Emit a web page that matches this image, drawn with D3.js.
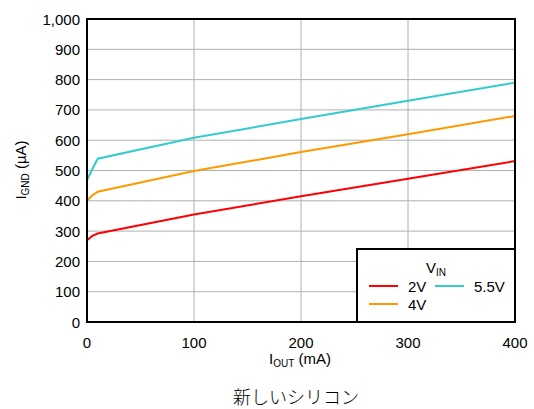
<!DOCTYPE html>
<html><head><meta charset="utf-8">
<script src="https://cdn.jsdelivr.net/npm/d3@7"></script>
<style>body{margin:0;background:#fff}svg{display:block}text{font-family:"Liberation Sans",Arial,sans-serif;fill:#000}</style>
</head><body><svg id="c" width="534" height="409"></svg>
<script>
const xTicks = [0,100,200,300,400];
const yTicks = [0,100,200,300,400,500,600,700,800,900,1000];
const iout = [0,5,10,100,200,300,400];
const v2 = [270,284,292,355,415,473,531];
const v4 = [400,418,430,498,561,620,680];
const v55 = [468,505,539,608,670,730,790];
const seriesNames = ["2V","4V","5.5V"];
const colors = ["#ff0000","#ff9900","#33cccc"];

const svg = d3.select("#c");
const L=87,R=515,T=19,B=322;
const x = d3.scaleLinear().domain([0,400]).range([L,R]);
const y = d3.scaleLinear().domain([0,1000]).range([B,T]);
const fmt = d3.format(",");
const FS=15;

// grid
svg.append("g").selectAll("line").data(yTicks.slice(1,-1)).join("line")
 .attr("x1",L).attr("x2",R).attr("y1",d=>y(d)).attr("y2",d=>y(d)).attr("stroke","#b0b0b0").attr("stroke-width",1);
svg.append("g").selectAll("line").data(xTicks.slice(1,-1)).join("line")
 .attr("y1",T).attr("y2",B).attr("x1",d=>x(d)).attr("x2",d=>x(d)).attr("stroke","#b0b0b0").attr("stroke-width",1);

// tick labels
svg.append("g").selectAll("text").data(yTicks).join("text")
 .attr("x",L-7).attr("y",d=>y(d)+5.5).attr("text-anchor","end").attr("font-size",FS).text(d=>fmt(d));
svg.append("g").selectAll("text").data(xTicks).join("text")
 .attr("x",d=>x(d)).attr("y",B+26).attr("text-anchor","middle").attr("font-size",FS).text(d=>d);

// lines
const data=[v2,v4,v55];
const line=d3.line().x((d,i)=>x(iout[i])).y(d=>y(d));
svg.append("g").selectAll("path").data(data).join("path")
 .attr("d",line).attr("fill","none").attr("stroke",(d,i)=>colors[i]).attr("stroke-width",2);

// frame
svg.append("rect").attr("x",L).attr("y",T).attr("width",R-L).attr("height",B-T)
 .attr("fill","none").attr("stroke","#000").attr("stroke-width",2);

// legend
const lg=svg.append("g");
lg.append("rect").attr("x",357).attr("y",249).attr("width",R-357).attr("height",B-249)
 .attr("fill","#fff").attr("stroke","#000").attr("stroke-width",2);
const vt=lg.append("text").attr("x",426).attr("y",273).attr("font-size",FS);
vt.append("tspan").text("V");
vt.append("tspan").attr("font-size",10).attr("dy",3).text("IN");
const pos=[[369,286],[369,304],[435,286]];
seriesNames.forEach((n,i)=>{
  const [px,py]=pos[i];
  lg.append("line").attr("x1",px).attr("x2",px+29).attr("y1",py).attr("y2",py).attr("stroke",colors[i]).attr("stroke-width",2);
  lg.append("text").attr("x",px+39).attr("y",py+5.5).attr("font-size",FS).text(n);
});

// axis titles
const yt=svg.append("text").attr("transform","translate(26,170) rotate(-90)").attr("text-anchor","middle").attr("font-size",FS);
yt.append("tspan").text("I");
yt.append("tspan").attr("font-size",10).attr("dy",3).text("GND");
yt.append("tspan").attr("dy",-3).text(" (µA)");
const xt=svg.append("text").attr("x",300).attr("y",364).attr("text-anchor","middle").attr("font-size",FS);
xt.append("tspan").text("I");
xt.append("tspan").attr("font-size",10).attr("dy",3).text("OUT");
xt.append("tspan").attr("dy",-3).text(" (mA)");

svg.append("text").attr("x",296).attr("y",404).attr("text-anchor","middle").attr("font-size",18)
 .attr("font-weight",300).attr("fill","#222")
 .style("font-family","'Noto Sans CJK JP',sans-serif").text("新しいシリコン");
</script></body></html>
